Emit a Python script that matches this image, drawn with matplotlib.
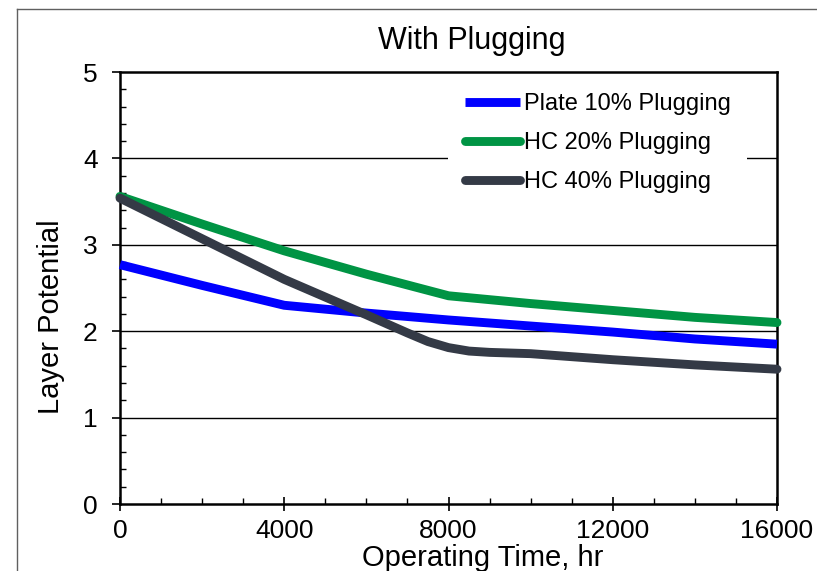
import matplotlib
matplotlib.use("Agg")
import matplotlib.pyplot as plt
from matplotlib.lines import Line2D
from matplotlib.ticker import MultipleLocator

plt.rcParams['font.family'] = ['Liberation Sans', 'DejaVu Sans']

# Data
times = [0, 2000, 4000, 6000, 8000, 10000, 12000, 14000, 16000]
plate_10 = [2.77, 2.53, 2.30, 2.21, 2.13, 2.06, 1.99, 1.91, 1.85]
hc_20 = [3.56, 3.24, 2.93, 2.66, 2.41, 2.32, 2.24, 2.16, 2.10]
times_hc40 = [0, 2000, 4000, 6000, 7000, 7500, 8000, 8500, 9000, 10000, 12000, 14000, 16000]
hc_40 = [3.54, 3.07, 2.60, 2.19, 1.98, 1.88, 1.81, 1.77, 1.755, 1.74, 1.67, 1.61, 1.56]

series_labels = ["Plate 10% Plugging", "HC 20% Plugging", "HC 40% Plugging"]
x_ticks = [0, 4000, 8000, 12000, 16000]
y_ticks = [0, 1, 2, 3, 4, 5]

W, H = 817, 571
fig = plt.figure(figsize=(W / 100, H / 100), dpi=100)
ax = fig.add_axes([120 / W, 1 - 504 / H, (777 - 120) / W, (504 - 72) / H])

# outer chart border (left and top edges visible only)
fig.add_artist(Line2D([16.5 / W, 16.5 / W], [0, 1 - 8.5 / H], transform=fig.transFigure,
                      color='#606060', linewidth=1.0))
fig.add_artist(Line2D([16.5 / W, 1.0], [1 - 8.5 / H, 1 - 8.5 / H], transform=fig.transFigure,
                      color='#606060', linewidth=1.0))

for y in y_ticks[1:-1]:
    ax.axhline(y, color='black', linewidth=1.0, zorder=1)

lw = 6.4
ax.plot(times, plate_10, color='#0000FF', linewidth=lw, solid_capstyle='butt',
        solid_joinstyle='round', label=series_labels[0], zorder=3, clip_on=False)
ax.plot(times, hc_20, color='#009444', linewidth=lw, solid_capstyle='round',
        solid_joinstyle='round', label=series_labels[1], zorder=3, clip_on=False)
ax.plot(times_hc40, hc_40, color='#343A46', linewidth=lw, solid_capstyle='round',
        solid_joinstyle='round', label=series_labels[2], zorder=4, clip_on=False)

ax.set_xlim(0, 16000)
ax.set_ylim(0, 5)
ax.set_xticks(x_ticks)
ax.set_yticks(y_ticks)
ax.set_xticklabels([str(v) for v in x_ticks])
ax.set_yticklabels([str(v) for v in y_ticks])
ax.xaxis.set_minor_locator(MultipleLocator(1000))
ax.yaxis.set_minor_locator(MultipleLocator(0.2))

ax.tick_params(axis='x', which='major', direction='inout', length=10, width=1.2,
               labelsize=19, pad=6)
ax.tick_params(axis='x', which='minor', direction='in', length=4, width=1.0)
ax.tick_params(axis='y', which='major', direction='out', length=6, width=1.2,
               labelsize=19, pad=10)
ax.tick_params(axis='y', which='minor', direction='in', length=4, width=1.0)

for s in ax.spines.values():
    s.set_linewidth(1.8)
    s.set_color('black')

leg = ax.legend(loc='center left', bbox_to_anchor=(448 / W, 1 - 143 / H),
                bbox_transform=fig.transFigure, frameon=True, fancybox=False,
                fontsize=17, handlelength=2.35, handletextpad=0.15,
                labelspacing=0.72, borderpad=0.7, borderaxespad=0)
leg.get_frame().set_facecolor('white')
leg.get_frame().set_edgecolor('none')
leg.get_frame().set_alpha(1.0)
leg.set_zorder(5)

fig.text(472 / W, 1 - 49 / H, "With Plugging", fontsize=22, ha='center', va='baseline')
fig.text(483 / W, 1 - 566 / H, "Operating Time, hr", fontsize=21, ha='center', va='baseline')
fig.text(51 / W, 1 - 317 / H, "Layer Potential", fontsize=21, ha='center', va='center',
         rotation=90)

fig.savefig("out.png", dpi=100)
